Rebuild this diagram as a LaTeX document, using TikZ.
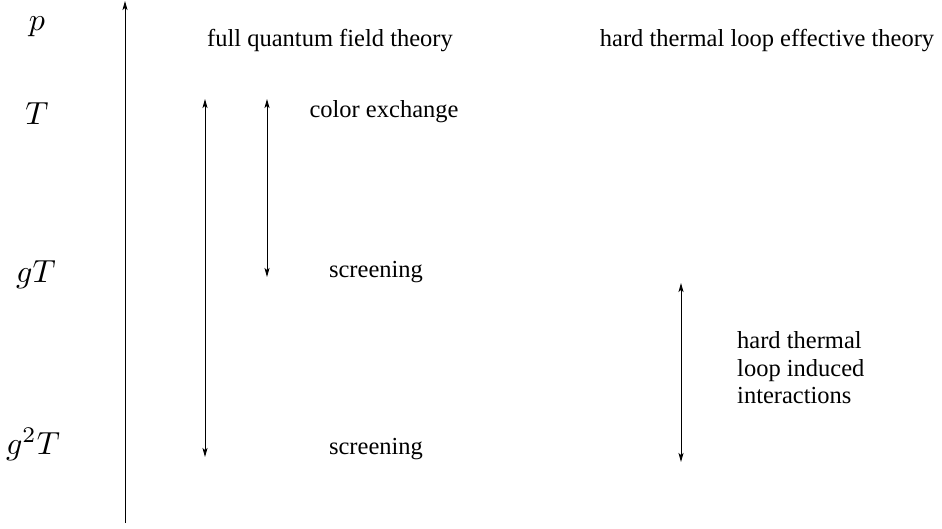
\documentclass[tikz,border=0pt]{standalone}
\usepackage{graphicx}
\usepackage{fontspec}
\setmainfont{Liberation Serif}
\usetikzlibrary{arrows.meta}
\newcommand{\bigmath}[1]{\scalebox{3.2}{$#1$}}
\tikzset{
  axisline/.style={line width=0.9pt, -{Stealth[length=9pt,width=5pt,inset=2pt]}},
  spanline/.style={line width=0.9pt, {Stealth[length=9pt,width=5pt,inset=2pt]}-{Stealth[length=9pt,width=5pt,inset=2pt]}},
  lbl/.style={inner sep=0pt, anchor=base, font=\fontsize{24.5}{27.5}\selectfont},
  scl/.style={inner sep=0pt, anchor=base}
}
\begin{document}
\begin{tikzpicture}[x=1pt,y=-1pt]
\useasboundingbox (0,0) rectangle (942,529);
% axis
\coordinate (a0) at (125,523);
\coordinate (a1) at (125,1);
\draw[axisline] (a0) -- (a1);
% scale labels
\node[scl] (p) at (37,31) {\bigmath{p}};
\node[scl] (T) at (37,125) {\bigmath{T}};
\node[scl] (gT) at (36,283) {\bigmath{gT}};
\node[scl] (g2T) at (33,454) {\bigmath{g^2T}};
% headings
\node[lbl] (full) at (330,47) {full quantum field theory};
\node[lbl] (htl) at (767,47) {hard thermal loop effective theory};
\node[lbl] (color) at (384,118) {color exchange};
\node[lbl] (scr1) at (376,278) {screening};
\node[lbl] (scr2) at (376,454) {screening};
\node[lbl, align=left, anchor=west] (ind) at (737,368) {hard thermal\\loop induced\\interactions};
% ranges
\coordinate (l1) at (205,99);
\coordinate (l2) at (205,457);
\draw[spanline] (l1) -- (l2);
\coordinate (c1) at (267,99);
\coordinate (c2) at (267,277);
\draw[spanline] (c1) -- (c2);
\coordinate (r1) at (681,283);
\coordinate (r2) at (681,462);
\draw[spanline] (r1) -- (r2);
\end{tikzpicture}
\end{document}
